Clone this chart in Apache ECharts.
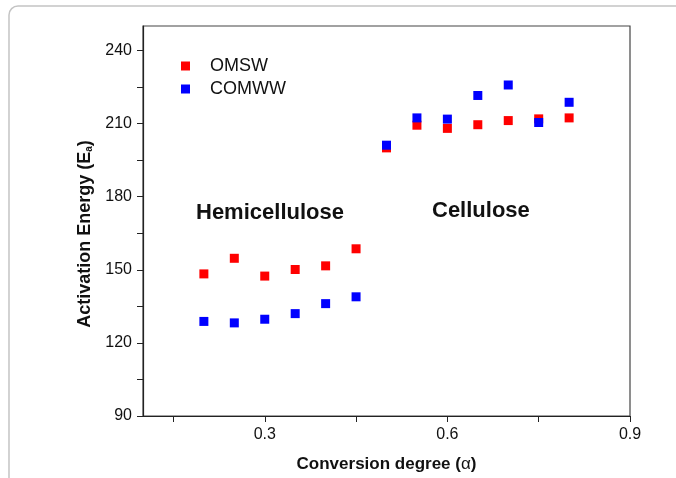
<!DOCTYPE html>
<html>
<head>
<meta charset="utf-8">
<script src="https://cdn.jsdelivr.net/npm/echarts@6/dist/echarts.min.js"></script>
<style>html,body{margin:0;padding:0;background:#fff;}#c{width:676px;height:478px;}</style>
</head>
<body>
<div id="c"></div>
<script>
const conversion = [0.2, 0.25, 0.3, 0.35, 0.4, 0.45, 0.5, 0.55, 0.6, 0.65, 0.7, 0.75, 0.8];
const omsw  = [148.3, 154.7, 147.4, 150.1, 151.6, 158.6, 200.0, 209.3, 208.0, 209.5, 211.2, 211.9, 212.3];
const comww = [128.8, 128.2, 129.7, 132.0, 136.1, 138.9, 201.1, 212.3, 211.8, 221.5, 225.8, 210.4, 218.7];
const xTicks = [0.15, 0.3, 0.45, 0.6, 0.75, 0.9];
const xLabels = [0.3, 0.6, 0.9];
const yTicks = [90, 105, 120, 135, 150, 165, 180, 195, 210, 225, 240];
const yLabels = [90, 120, 150, 180, 210, 240];
const seriesNames = ['OMSW', 'COMWW'];

const FONT = '"Liberation Sans", Arial, sans-serif';
const chart = echarts.init(document.getElementById('c'));
chart.setOption({
  animation: false,
  backgroundColor: '#fff',
  grid: { left: 143, top: 26, right: 46, bottom: 60, show: true, borderColor: '#444', borderWidth: 1.2, backgroundColor: 'transparent' },
  legend: {
    orient: 'vertical', left: 176, top: 52, itemWidth: 9, itemHeight: 9, itemGap: 5,
    icon: 'rect',
    textStyle: { fontFamily: FONT, fontSize: 18, color: '#111', padding: [0, 0, 0, 15] },
    data: seriesNames
  },
  xAxis: {
    type: 'value', min: 0.1, max: 0.9,
    axisLine: { show: true, onZero: false, lineStyle: { color: '#222', width: 1.2 } },
    axisTick: { show: true, length: 6, customValues: xTicks, lineStyle: { color: '#222' } },
    axisLabel: { customValues: xLabels, margin: 11, fontFamily: FONT, fontSize: 16, color: '#111',
      formatter: v => v.toFixed(1) },
    splitLine: { show: false },
    name: 'Conversion degree ({n|α})', nameLocation: 'middle', nameGap: 40,
    nameTextStyle: { fontFamily: FONT, fontSize: 17, fontWeight: 'bold', color: '#111',
      rich: { n: { fontFamily: FONT, fontSize: 17, fontWeight: 'normal', color: '#111' } } }
  },
  yAxis: {
    type: 'value', min: 90, max: 250,
    axisLine: { show: true, onZero: false, lineStyle: { color: '#222', width: 1.2 } },
    axisTick: { show: true, length: 6, customValues: yTicks, lineStyle: { color: '#222' } },
    axisLabel: { customValues: yLabels, margin: 11, fontFamily: FONT, fontSize: 16, color: '#111' },
    splitLine: { show: false }
  },
  series: [
    { name: seriesNames[0], type: 'scatter', symbol: 'rect', symbolSize: 9,
      itemStyle: { color: '#ff0000', opacity: 1 },
      data: conversion.map((x, i) => [x, omsw[i]]) },
    { name: seriesNames[1], type: 'scatter', symbol: 'rect', symbolSize: 9,
      itemStyle: { color: '#0000ff', opacity: 1 },
      data: conversion.map((x, i) => [x, comww[i]]) }
  ],
  graphic: [
    { type: 'rect', shape: { x: 9, y: 6, width: 720, height: 520, r: 9 }, silent: true,
      style: { fill: 'none', stroke: '#c4c4c4', lineWidth: 1.5 }, z: -1 },
    { type: 'text', x: 85, y: 234, rotation: Math.PI / 2,
      style: { text: 'Activation Energy (E{s|a})', align: 'center', verticalAlign: 'middle',
        fontFamily: FONT, fontSize: 18, fontWeight: 'bold', fill: '#111',
        rich: { s: { fontFamily: FONT, fontSize: 10, fontWeight: 'bold', fill: '#111', verticalAlign: 'bottom', padding: [9, 0, 0, 0] } } } },
    { type: 'text', left: 196, top: 202, style: { text: 'Hemicellulose', fontFamily: FONT, fontSize: 22, fontWeight: 'bold', fill: '#111' } },
    { type: 'text', left: 432, top: 200, style: { text: 'Cellulose', fontFamily: FONT, fontSize: 22, fontWeight: 'bold', fill: '#111' } }
  ]
});
</script>
</body>
</html>
